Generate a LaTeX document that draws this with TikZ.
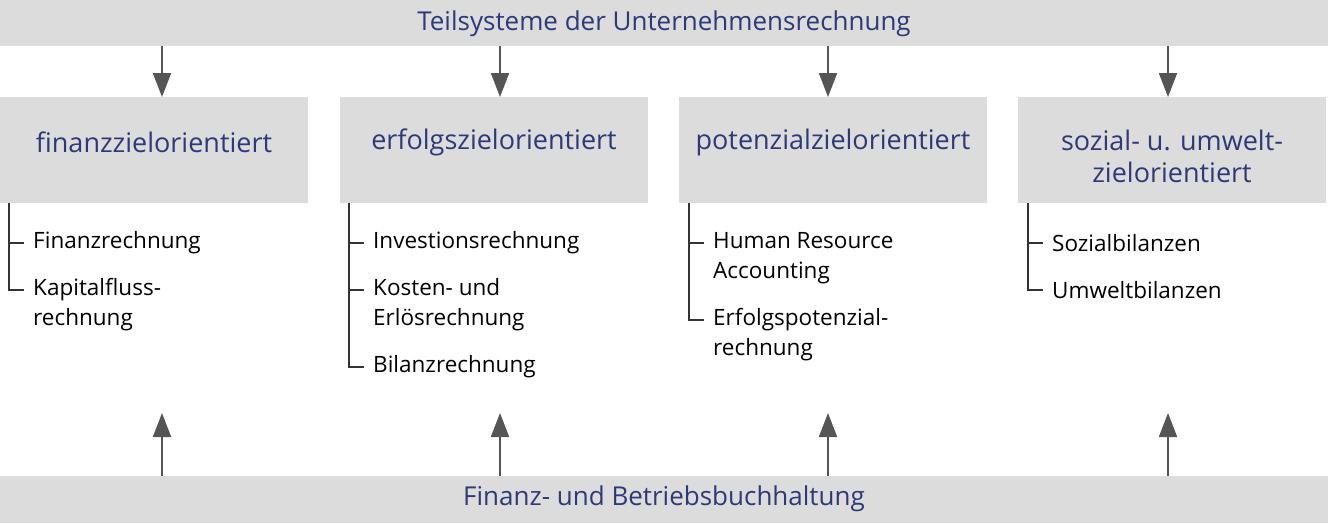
\documentclass[tikz,border=0pt]{standalone}
\usepackage{fontspec}
\setmainfont{Open Sans}
\usetikzlibrary{arrows.meta}
\definecolor{bar}{HTML}{DCDCDC}
\definecolor{navy}{HTML}{2E3A78}
\definecolor{arr}{HTML}{555555}
\tikzset{
  bartext/.style={font=\fontsize{26}{30}\selectfont, text=navy},
  boxhead/.style={fill=bar, minimum width=308pt, minimum height=106pt, anchor=north west, inner sep=0pt},
  headtext/.style={align=center, font=\fontsize{27}{32}\selectfont, text=navy, inner sep=0pt},
  item/.style={anchor=west, align=left, font=\fontsize{22.5}{30}\selectfont, inner sep=0pt},
  conn/.style={draw=arr, line width=2pt, -{Triangle[length=24pt,width=18pt]}},
  brk/.style={draw=black!80, line width=1.1pt},
}
\begin{document}
\begin{tikzpicture}[x=1pt,y=-1pt]
\useasboundingbox (0,0) rectangle (1328,523);
\fill[bar] (0,0) rectangle (1328,46);
\fill[bar] (0,476) rectangle (1328,523);
\node[bartext] (top) at (664,24) {Teilsysteme der Unternehmensrechnung};
\node[bartext] (bot) at (664,499) {Finanz- und Betriebsbuchhaltung};

\node[boxhead] (b1) at (0,97) {};
\node[boxhead] (b2) at (340,97) {};
\node[boxhead] (b3) at (679,97) {};
\node[boxhead] (b4) at (1018,97) {};
\node[headtext] (h1) at (154,142) {finanzzielorientiert};
\node[headtext] (h2) at (494,142) {erfolgszielorientiert};
\node[headtext] (h3) at (833,142) {potenzialzielorientiert};
\node[headtext] (h4) at (1172,156) {sozial- u. umwelt-\\zielorientiert};

\foreach \x/\b in {162/b1,500/b2,828/b3,1168/b4}{
  \coordinate (t\b) at (\x,46);
  \coordinate (u\b) at (\x,476);
  \draw[conn] (t\b) -- (\x,97);
  \draw[conn] (u\b) -- (\x,413);
}

% column 1
\node[item] (i11) at (33,243) {Finanzrechnung};
\node[item] (i12) at (33,305) {Kapitalfluss-\\rechnung};
\draw[brk] (9,203) -- (9,290) -- (24,290);
\draw[brk] (9,243) -- (24,243);
% column 2
\node[item] (i21) at (373,243) {Investionsrechnung};
\node[item] (i22) at (373,305) {Kosten- und\\Erlösrechnung};
\node[item] (i23) at (373,367) {Bilanzrechnung};
\draw[brk] (349,203) -- (349,367) -- (364,367);
\draw[brk] (349,243) -- (364,243);
\draw[brk] (349,290) -- (364,290);
% column 3
\node[item] (i31) at (713,258) {Human Resource\\Accounting};
\node[item] (i32) at (713,335) {Erfolgspotenzial-\\rechnung};
\draw[brk] (689,203) -- (689,320) -- (704,320);
\draw[brk] (689,243) -- (704,243);
% column 4
\node[item] (i41) at (1052,243) {Sozialbilanzen};
\node[item] (i42) at (1052,290) {Umweltbilanzen};
\draw[brk] (1028,203) -- (1028,290) -- (1043,290);
\draw[brk] (1028,243) -- (1043,243);
\end{tikzpicture}
\end{document}
